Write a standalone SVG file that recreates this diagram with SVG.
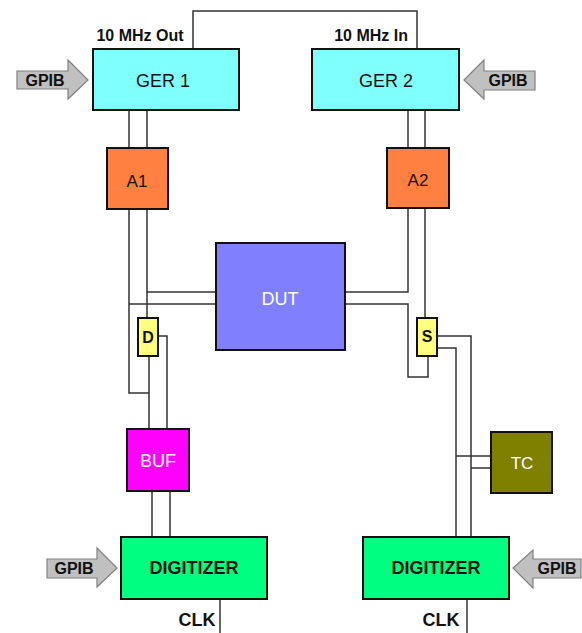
<svg xmlns="http://www.w3.org/2000/svg" width="582" height="633" viewBox="0 0 582 633">
<style>
.box{stroke:#111;stroke-width:2}
.w{stroke:#333;stroke-width:1.5;fill:none}
.arrow{fill:#c0c0c0;stroke:#808080;stroke-width:1.2}
text{font-family:"Liberation Sans",Arial,sans-serif;text-anchor:middle}
.lbl{font-weight:bold;font-size:16px;fill:#111}
.gp{font-weight:bold;font-size:16px;fill:#111}
.nb{font-size:18px;fill:#111}
.nw{font-size:18px;fill:#fff}
.nbb{font-weight:bold;font-size:18px;fill:#111}
</style>
<rect width="582" height="633" fill="#fff"/>
<g id="connectors">
<polyline class="w" points="193,49 193,11 417,11 417,49"/>
<path class="w" d="M129,110V148M147,110V148"/>
<path class="w" d="M408,110V148M425,110V148"/>
<path class="w" d="M147,209V318M147,292H216"/>
<path class="w" d="M129,209V393H149M129,304H216"/>
<path class="w" d="M149,356V429M158,336H167V429"/>
<path class="w" d="M152,491V537M170,491V537"/>
<path class="w" d="M220,599V633"/>
<path class="w" d="M408,208V292H345"/>
<path class="w" d="M345,304H408V377H428V356"/>
<path class="w" d="M425,208V318"/>
<path class="w" d="M437,336H471V537M437,348H456V537"/>
<path class="w" d="M456,456H491M471,468H491"/>
<path class="w" d="M467,599V633"/>
</g>
<g id="gpib1"><path class="arrow" d="M17,71H68V60L88,80L68,99V89H17Z"/><text class="gp" x="45" y="86">GPIB</text></g>
<g id="gpib2"><path class="arrow" d="M535,71H484V60L464,80L484,99V90H535Z"/><text class="gp" x="508" y="86">GPIB</text></g>
<g id="gpib3"><path class="arrow" d="M47,559H97V548L117,568L97,587V578H47Z"/><text class="gp" x="74" y="574">GPIB</text></g>
<g id="gpib4"><path class="arrow" d="M581,559H533V550L513,568L533,588V578H581Z"/><text class="gp" x="557" y="574">GPIB</text></g>
<g id="ger1"><rect class="box" x="93" y="49" width="146" height="61" fill="#80ffff"/><text class="nb" x="163" y="87">GER 1</text><text class="lbl" x="140" y="41">10 MHz Out</text></g>
<g id="ger2"><rect class="box" x="312" y="49" width="147" height="61" fill="#80ffff"/><text class="nb" x="386" y="87">GER 2</text><text class="lbl" x="408" y="41" style="text-anchor:end">10 MHz In</text></g>
<g id="a1"><rect class="box" x="107" y="148" width="61" height="61" fill="#ff8040"/><text class="nb" x="137" y="187" style="font-size:17px">A1</text></g>
<g id="a2"><rect class="box" x="387" y="148" width="62" height="60" fill="#ff8040"/><text class="nb" x="418" y="186" style="font-size:17px">A2</text></g>
<g id="dut"><rect class="box" x="216" y="243" width="129" height="107" fill="#8080ff"/><text class="nw" x="280" y="305">DUT</text></g>
<g id="d"><rect class="box" x="138" y="318" width="20" height="38" fill="#ffff80"/><text class="nbb" x="148" y="343" style="font-size:16px">D</text></g>
<g id="s"><rect class="box" x="417" y="318" width="20" height="38" fill="#ffff80"/><text class="nbb" x="427" y="342" style="font-size:16px">S</text></g>
<g id="buf"><rect class="box" x="127" y="429" width="62" height="62" fill="#ff00ff"/><text class="nw" x="158" y="467">BUF</text></g>
<g id="tc"><rect class="box" x="491" y="432" width="61" height="61" fill="#808000"/><text class="nw" x="522" y="469" style="font-size:17px">TC</text></g>
<g id="dig1"><rect class="box" x="121" y="537" width="146" height="62" fill="#00ff80"/><text class="nbb" x="194" y="574">DIGITIZER</text><text class="nbb" x="197" y="626">CLK</text></g>
<g id="dig2"><rect class="box" x="363" y="537" width="146" height="62" fill="#00ff80"/><text class="nbb" x="436" y="574">DIGITIZER</text><text class="nbb" x="441" y="626">CLK</text></g>
</svg>
